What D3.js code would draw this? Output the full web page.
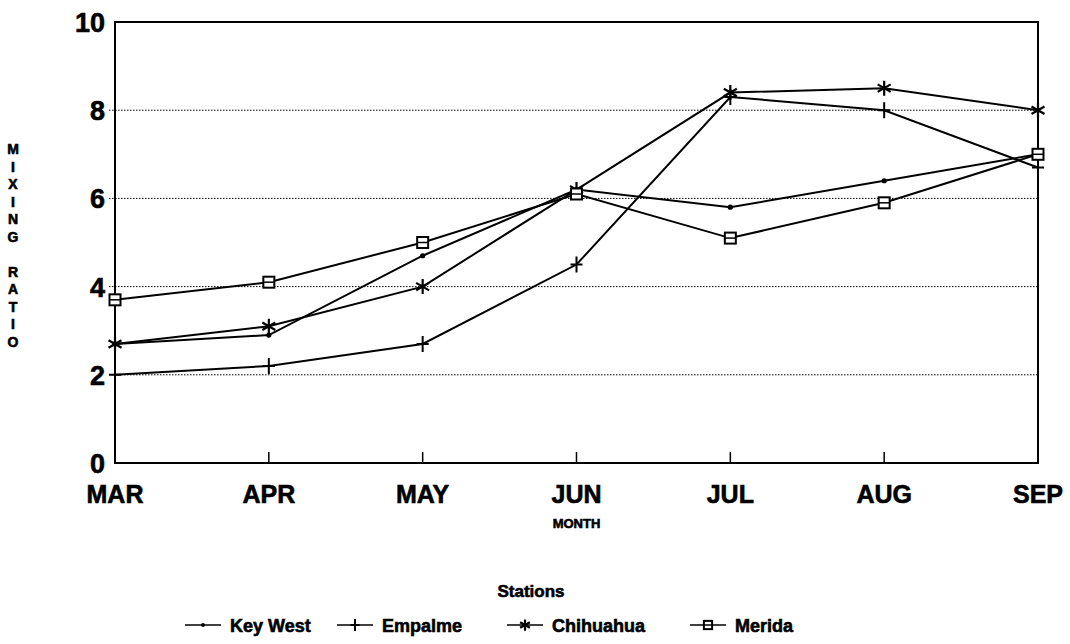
<!DOCTYPE html>
<html><head><meta charset="utf-8">
<script src="https://cdn.jsdelivr.net/npm/d3@7"></script>
<style>body{margin:0;background:#fff}svg{display:block}text{font-family:"Liberation Sans",Arial,sans-serif;font-weight:bold;fill:#000;stroke:#000;stroke-width:0.6px}</style>
</head><body>
<svg id="c" width="1070" height="644"></svg>
<script>
const months = ["MAR","APR","MAY","JUN","JUL","AUG","SEP"];
const yTicks = [0,2,4,6,8,10];
const keyWest   = [2.7,2.9,4.7,6.2,5.8,6.4,7.0];
const empalme   = [2.0,2.2,2.7,4.5,8.3,8.0,6.7];
const chihuahua = [2.7,3.1,4.0,6.2,8.4,8.5,8.0];
const merida    = [3.7,4.1,5.0,6.1,5.1,5.9,7.0];
const seriesNames = ["Key West","Empalme","Chihuahua","Merida"];
const seriesData = [keyWest, empalme, chihuahua, merida];
const markers = ["dot","plus","star","square"];

const svg = d3.select("#c");
const L=115, R=1038, T=22, B=463;
const x = d3.scalePoint().domain(months).range([L,R]);
const y = d3.scaleLinear().domain([0,10]).range([B,T]);

// gridlines
svg.append("g").selectAll("line").data(yTicks.filter(d=>d>0&&d<10)).join("line")
  .attr("x1",L-6).attr("x2",R).attr("y1",d=>y(d)).attr("y2",d=>y(d))
  .attr("stroke","#000").attr("stroke-width",1).attr("stroke-dasharray","1.5,1.5");

// frame
svg.append("rect").attr("x",L).attr("y",T).attr("width",R-L).attr("height",B-T)
  .attr("fill","none").attr("stroke","#000").attr("stroke-width",2);

// x ticks (inside, upward)
svg.append("g").selectAll("line").data(months.slice(1,-1)).join("line")
  .attr("x1",d=>x(d)).attr("x2",d=>x(d)).attr("y1",B).attr("y2",B-11)
  .attr("stroke","#000").attr("stroke-width",1.5);

// y labels
svg.append("g").selectAll("text").data(yTicks).join("text")
  .attr("x",L-10).attr("y",d=>y(d)+10).attr("text-anchor","end")
  .attr("font-size",27).text(d=>d);

// x labels
svg.append("g").selectAll("text").data(months).join("text")
  .attr("x",d=>x(d)).attr("y",503).attr("text-anchor","middle")
  .attr("font-size",25).text(d=>d);

svg.append("text").attr("x",x("JUN")).attr("y",528).attr("text-anchor","middle")
  .attr("font-size",13).text("MONTH");

// y title stacked letters
const yTitle = "MIXING RATIO".split("");
svg.append("g").selectAll("text").data(yTitle).join("text")
  .attr("x",13).attr("y",(d,i)=>154+i*17.5).attr("text-anchor","middle")
  .attr("font-size",14).text(d=>d);

function drawMarker(g, type, cx, cy, s){
  s = s||1;
  if(type==="dot"){
    g.append("circle").attr("cx",cx).attr("cy",cy).attr("r",2.6*s).attr("fill","#000");
  } else if(type==="plus"){
    g.append("path").attr("d",`M${cx},${cy-8*s}V${cy+8*s}M${cx-6*s},${cy}H${cx+6*s}`)
      .attr("stroke","#000").attr("stroke-width",2).attr("fill","none");
  } else if(type==="star"){
    const r=7.5*s; let d="";
    [90,30,-30].forEach(a=>{const rad=a*Math.PI/180;const dx=r*Math.cos(rad),dy=r*Math.sin(rad);
      d+=`M${cx-dx},${cy-dy}L${cx+dx},${cy+dy}`;});
    g.append("path").attr("d",d).attr("stroke","#000").attr("stroke-width",2.2).attr("fill","none");
  } else {
    const h=5.5*s;
    g.append("rect").attr("x",cx-h).attr("y",cy-h).attr("width",2*h).attr("height",2*h)
      .attr("fill","#fff").attr("stroke","#000").attr("stroke-width",2);
    g.append("line").attr("x1",cx-h).attr("x2",cx+h).attr("y1",cy).attr("y2",cy)
      .attr("stroke","#000").attr("stroke-width",1.5);
  }
}

const line = d3.line().x((d,i)=>x(months[i])).y(d=>y(d));
seriesData.forEach((s,k)=>{
  const g = svg.append("g");
  g.append("path").datum(s).attr("d",line).attr("fill","none")
    .attr("stroke","#000").attr("stroke-width",2);
  s.forEach((v,i)=>drawMarker(g, markers[k], x(months[i]), y(v)));
});

// legend
svg.append("text").attr("x",531).attr("y",597).attr("text-anchor","middle")
  .attr("font-size",17).text("Stations");
const legX = [185, 337, 507, 690];
seriesNames.forEach((n,k)=>{
  const g = svg.append("g");
  const x0 = legX[k], ly = 625;
  g.append("line").attr("x1",x0).attr("x2",x0+36).attr("y1",ly).attr("y2",ly)
    .attr("stroke","#000").attr("stroke-width",1.5);
  drawMarker(g, markers[k], x0+18, ly, 0.75);
  g.append("text").attr("x",x0+45).attr("y",ly+7).attr("font-size",18).text(n);
});
</script>
</body></html>
